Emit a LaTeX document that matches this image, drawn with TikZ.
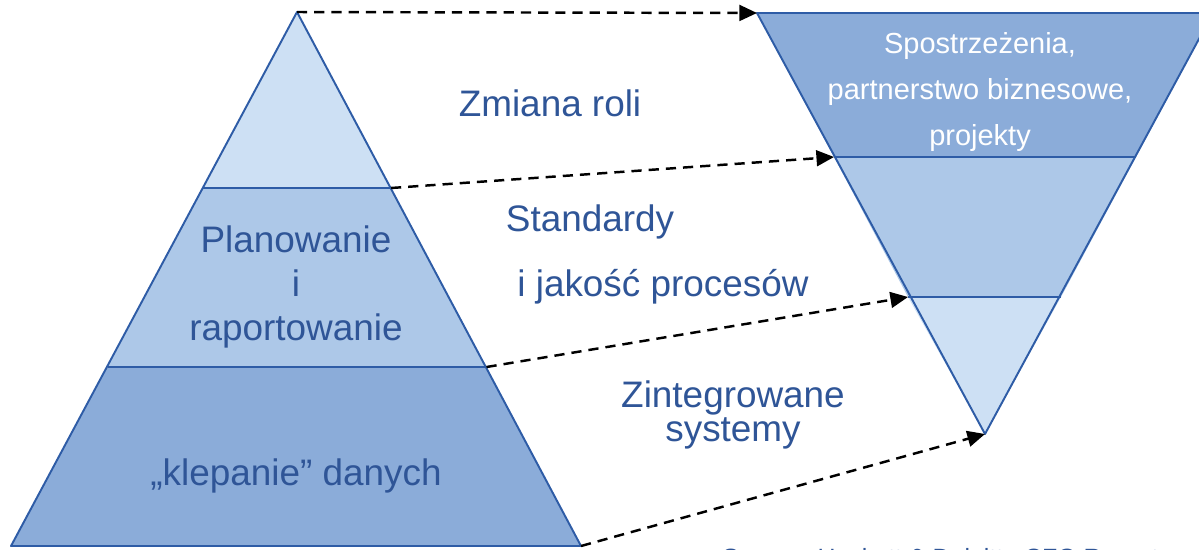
\documentclass[tikz,border=0pt]{standalone}
\usepackage{fontspec}
\setmainfont{Liberation Sans}
\usetikzlibrary{arrows.meta}
\definecolor{edgeblue}{HTML}{2E5CA6}
\definecolor{txtblue}{HTML}{2F5597}
\definecolor{tierlight}{HTML}{CDE0F4}
\definecolor{tiermid}{HTML}{ADC8E8}
\definecolor{tierdark}{HTML}{8BACD9}
\tikzset{
  tier/.style={draw=edgeblue, line width=1.1pt, line join=round},
  tiermove/.style={draw=black, line width=1.4pt, dash pattern=on 5.8pt off 4pt,
    -{Triangle[length=10pt,width=9pt]}},
  biglabel/.style={text=txtblue, font=\fontsize{21}{25}\selectfont, align=center, inner sep=0pt},
  whitelabel/.style={text=white, font=\fontsize{16.5}{26}\selectfont, align=center, inner sep=0pt},
}
\begin{document}
\begin{tikzpicture}[x=0.02cm, y=-0.02cm]
\useasboundingbox (0,0) rectangle (1199,549);
\clip (0,0) rectangle (1199,549);

% left pyramid: corner points of its three tiers
\coordinate (LA) at (297,12);
\coordinate (L1l) at (203,188);
\coordinate (L1r) at (391,188);
\coordinate (L2l) at (107.5,367);
\coordinate (L2r) at (486.5,367);
\coordinate (L3l) at (11,546);
\coordinate (L3r) at (581,546);

\fill[tierlight] (LA) -- (L1r) -- (L1l) -- cycle;
\fill[tiermid] (L1l) -- (L1r) -- (L2r) -- (L2l) -- cycle;
\fill[tierdark] (L2l) -- (L2r) -- (L3r) -- (L3l) -- cycle;
\draw[tier] (LA) -- (L3r) -- (L3l) -- cycle;
\draw[tier] (L1l) -- (L1r);
\draw[tier] (L2l) -- (L2r);

% right inverted pyramid
\coordinate (RA) at (985,434);
\coordinate (R0l) at (757,13);
\coordinate (R0r) at (1213,13);
\coordinate (R1l) at (834,157);
\coordinate (R1r) at (1136,157);
\coordinate (R2l) at (908,297);
\coordinate (R2r) at (1061,297);

\fill[tierdark] (R0l) -- (R0r) -- (R1r) -- (R1l) -- cycle;
\fill[tiermid] (R1l) -- (R1r) -- (R2r) -- (R2l) -- cycle;
\fill[tierlight] (R2l) -- (R2r) -- (RA) -- cycle;
\draw[tier] (R0l) -- (R0r) -- (RA) -- cycle;
\draw[tier] (R1l) -- (R1r);
\draw[tier] (R2l) -- (R2r);

% dashed moves from left tiers to right tiers
\draw[tiermove] (LA) -- (R0l);
\draw[tiermove] (L1r) -- (R1l);
\draw[tiermove] (L2r) -- (R2l);
\draw[tiermove] (L3r) -- (RA);

% tier labels
\node[biglabel] (plan) at (296,287) {Planowanie\\i\\raportowanie};
\node[biglabel] (data) at (296,476) {„klepanie” danych};
\node[whitelabel] (insight) at (980,92) {Spostrzeżenia,\\partnerstwo biznesowe,\\projekty};

% move labels
\node[biglabel] (role) at (550,103) {Zmiana roli};
\node[biglabel] (std) at (590,222) {Standardy};
\node[biglabel] (quality) at (663,287) {i jakość procesów};
\node[biglabel, font=\fontsize{21}{19.5}\selectfont] (systems) at (733,415) {Zintegrowane\\systemy};

% source line along the bottom edge
\node[text=txtblue, font=\fontsize{14.2}{17}\selectfont, anchor=base west, inner sep=0pt] (source) at (722,566) {Source: Hackett \& Deloitte CFO Report};
\end{tikzpicture}
\end{document}
